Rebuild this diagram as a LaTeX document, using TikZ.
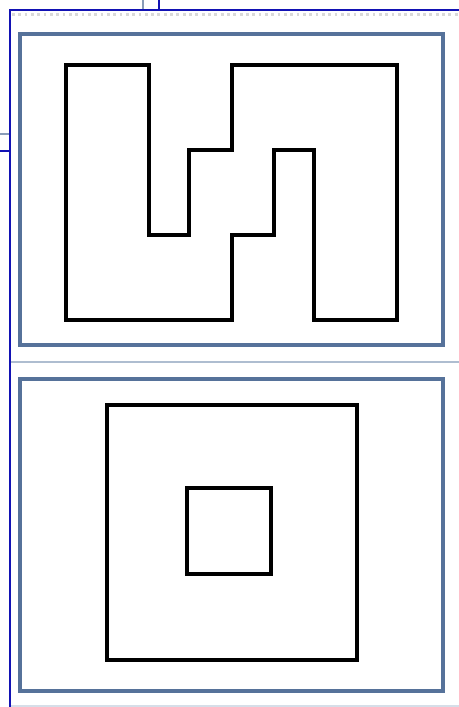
\documentclass[tikz,border=0pt]{standalone}
\usepackage{xcolor}
\usetikzlibrary{math}
\definecolor{framegray}{HTML}{56729A}
\definecolor{winblue}{HTML}{1212B4}
\definecolor{sepgray}{HTML}{AEBDD0}

\begin{document}
\begin{tikzpicture}[x={(0.02cm,0)},y={(0,-0.02cm)},
  panel/.style={draw=framegray,line width=1.8pt},
  outline/.style={draw=black,line width=2.1pt,line join=miter}]
\tikzmath{
\W=459;
\H=707;
}
\useasboundingbox (0,0) rectangle (\W,\H);

% window edges
\draw[winblue,line width=1.5pt] (10,\H) -- (10,10) -- (\W,10);
\draw[gray!30,line width=1.6pt,dotted] (12,14.5) -- (\W,14.5);
\draw[framegray!70,line width=1.5pt] (143,0) -- (143,9);
\draw[winblue,line width=0.9pt] (159,0) -- (159,9);
\draw[framegray!70,line width=1.5pt] (0,134) -- (9,134);
\draw[winblue,line width=0.9pt] (0,151) -- (9,151);
\draw[sepgray,line width=1.2pt] (11,362) -- (\W,362);
\draw[sepgray!50,line width=0.8pt] (11,706) -- (\W,706);

% upper panel
\draw[panel] (20,34) rectangle (443,345);
\draw[outline] (66,65) -- (149,65) -- (149,235) -- (189,235) -- (189,150)
  -- (232,150) -- (232,65) -- (397,65) -- (397,320) -- (314,320)
  -- (314,150) -- (274,150) -- (274,235) -- (232,235) -- (232,320)
  -- (66,320) -- cycle;

% lower panel
\draw[panel] (20,379) rectangle (443,691);
\draw[outline] (107,405) rectangle (357,660);
\draw[outline] (187,488) rectangle (271,574);

\end{tikzpicture}
\end{document}
